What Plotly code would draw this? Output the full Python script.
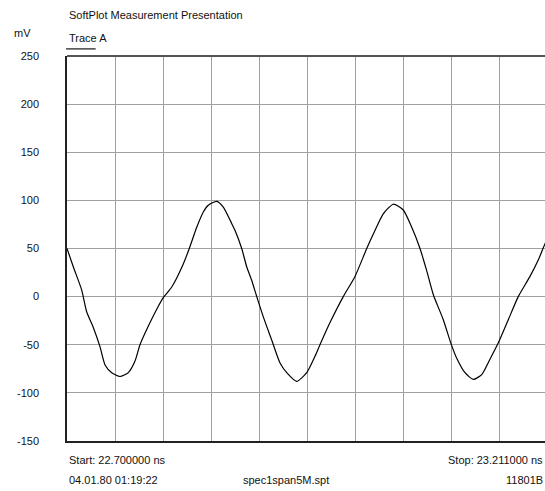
import plotly.graph_objects as go

# Trace A samples: time (ns) and amplitude (mV)
time_ns = [
    22.7000, 22.7067, 22.7156, 22.7210, 22.7280, 22.7351, 22.7405, 22.7476,
    22.7564, 22.7653, 22.7724, 22.7777, 22.7884, 22.7972, 22.8025, 22.8115,
    22.8238, 22.8302, 22.8381, 22.8451, 22.8504, 22.8594, 22.8664, 22.8753,
    22.8788, 22.8860, 22.8913, 22.8966, 22.9020, 22.9090, 22.9179, 22.9268,
    22.9339, 22.9445, 22.9552, 22.9640, 22.9693, 22.9800, 22.9941, 23.0066,
    23.0191, 23.0261, 23.0367, 23.0474, 23.0580, 23.0670, 23.0758, 23.0829,
    23.0900, 23.1006, 23.1085, 23.1149, 23.1237, 23.1325, 23.1415, 23.1503,
    23.1592, 23.1698, 23.1804, 23.1929, 23.2017, 23.2089, 23.2110,
]
trace_a_mv = [
    50, 31, 7, -16, -32, -52, -71, -79,
    -83, -79, -67, -50, -27, -10, -1, 10,
    34, 50, 72, 88, 95, 99, 93, 76,
    69, 50, 31, 17, 0, -21, -45, -69,
    -79, -88, -79, -62, -50, -27, 0, 21,
    50, 65, 86, 96, 90, 72, 50, 27,
    2, -24, -48, -64, -79, -86, -81, -65,
    -48, -24, 0, 21, 38, 55, 58,
]

y_ticks = [250, 200, 150, 100, 50, 0, -50, -100, -150]
start_ns = 22.7
stop_ns = 23.211
x_div = (stop_ns - start_ns) / 10

FONT = "Liberation Sans, Arial, sans-serif"
TXT = "#111111"

fig = go.Figure()
fig.add_trace(go.Scatter(
    x=time_ns, y=trace_a_mv, mode="lines",
    line=dict(color="#000000", width=1.2, shape="spline", smoothing=0.6),
    hoverinfo="skip", showlegend=False,
))

fig.update_layout(
    width=545, height=491,
    margin=dict(l=67, r=0, t=56, b=50),
    paper_bgcolor="white", plot_bgcolor="white",
    font=dict(family=FONT, size=11, color=TXT),
    xaxis=dict(
        range=[start_ns, start_ns + (stop_ns - start_ns) * 478 / 480],
        tick0=start_ns, dtick=x_div,
        showticklabels=False, ticks="",
        showgrid=True, gridcolor="#a0a0a0", gridwidth=1.3,
        zeroline=False, showline=True, linecolor="#222222", linewidth=1.5,
        mirror=False,
    ),
    yaxis=dict(
        range=[-150, 250],
        tickvals=y_ticks, ticktext=[str(v) for v in y_ticks],
        ticks="", ticklabelstandoff=24,
        tickfont=dict(family=FONT, size=11, color=TXT),
        showgrid=True, gridcolor="#a0a0a0", gridwidth=1.3,
        zeroline=False, showline=True, linecolor="#222222", linewidth=1.5,
    ),
)

# Top border of the plot frame
fig.add_shape(type="line", xref="paper", yref="paper", x0=0, x1=1, y0=1, y1=1,
              line=dict(color="#555555", width=2))
# Legend sample line under "Trace A"
fig.add_shape(type="line", xref="paper", yref="paper", x0=-0.002, x1=0.06,
              y0=1.0185, y1=1.0185, line=dict(color="#444444", width=1.5))

def label(text, x, y, xanchor="left", xref="paper"):
    fig.add_annotation(text=text, x=x, y=y, xref=xref, yref="paper",
                       xanchor=xanchor, yanchor="middle", showarrow=False,
                       font=dict(family=FONT, size=11, color=TXT))

label("SoftPlot Measurement Presentation", 0, 1.107)
label("mV", -0.115, 1.06)
label("Trace A", 0, 1.046)
label(f"Start: {start_ns:.6f} ns", 0, -0.05)
label(f"Stop: {stop_ns:.6f} ns", 1.0, -0.05, xanchor="right")
label("04.01.80 01:19:22", 0, -0.1)
label("spec1span5M.spt", 0.365, -0.1)
label("11801B", 1.0, -0.1, xanchor="right")

fig.write_html("out.html")
